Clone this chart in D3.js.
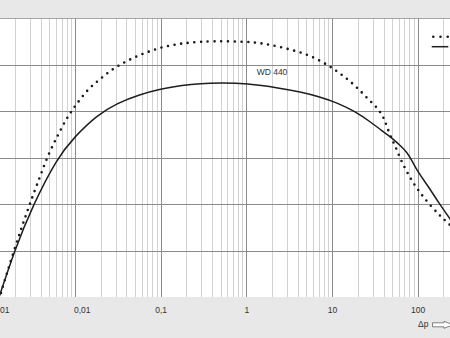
<!DOCTYPE html>
<html>
<head>
<meta charset="utf-8">
<script src="https://cdn.jsdelivr.net/npm/d3@7"></script>
<style>
  html, body { margin: 0; padding: 0; background: #e8e8e8; }
  svg { display: block; }
  text { font-family: "Liberation Sans", Arial, sans-serif; fill: #333; }
</style>
</head>
<body>
<svg id="chart" width="450" height="338"></svg>
<script>
// ---- data ----
const xTickValues = [0.001, 0.01, 0.1, 1, 10, 100];
const xTickLabels = ["0,001", "0,01", "0,1", "1", "10", "100"];
const yGridValues = [0, 10, 20, 30, 40, 50, 60];

// solid curve "WD 440"
const dpSolid = [0.00128, 0.00196, 0.00324, 0.00618, 0.00984, 0.01826, 0.0312, 0.0575, 0.0984, 0.1826, 0.288, 0.493, 1.01, 2.47, 4.23, 7.24, 11.35, 18.6, 27.8, 43.6, 51.9, 65.1, 74.4, 85.1, 97.3, 132, 177, 238, 320];
const valSolid = [-0.5, 9.9, 19.81, 29.86, 34.45, 39.18, 41.77, 43.6, 44.78, 45.64, 45.96, 46.1, 46.0, 44.98, 44.18, 43.1, 41.85, 39.94, 37.78, 35.0, 34.0, 32.3, 31.2, 29.5, 27.3, 23.9, 20.2, 16.8, 13.6];

// dotted curve
const dpDotted = [0.00130, 0.0020, 0.00299, 0.00392, 0.00486, 0.00635, 0.00802, 0.01002, 0.01422, 0.0191, 0.0257, 0.0357, 0.0503, 0.0718, 0.103, 0.151, 0.220, 0.408, 1.01, 1.73, 2.96, 5.07, 7.58, 10.5, 14.3, 19.1, 24.9, 32.6, 37.0, 40.7, 43.5, 49.7, 54.3, 62.1, 74.4, 88.9, 111, 139, 182, 218, 320];
const valDotted = [-0.5, 10.8, 20.2, 25.9, 30.6, 34.9, 38.5, 41.1, 44.8, 46.7, 48.7, 50.3, 51.7, 52.8, 53.8, 54.4, 54.8, 55.1, 55.0, 54.5, 53.5, 52.3, 50.7, 49.1, 47.3, 45.3, 43.1, 41.0, 39.7, 38.3, 36.8, 33.95, 32.7, 29.9, 27.0, 24.5, 22.0, 19.8, 17.5, 16.2, 13.2];

const seriesLabel = "WD 440";
const labelAt = [1.32, 47.8];
const axisLabel = "Δp";

// ---- layout ----
const W = 450, H = 338;
const plotTop = 18.3, plotBottom = 297, plotLeft = 0, plotRight = 450;

const svg = d3.select("#chart");

const x = d3.scaleLog().domain([0.001, 1000]).range([-10.8, 503.4]);
const y = d3.scaleLinear().domain([0, 60]).range([plotBottom, plotTop]);

// plot background
svg.append("rect")
  .attr("x", plotLeft).attr("y", plotTop)
  .attr("width", plotRight - plotLeft).attr("height", plotBottom - plotTop)
  .attr("fill", "#ffffff");

const clip = svg.append("defs").append("clipPath").attr("id", "plotclip");
clip.append("rect")
  .attr("x", plotLeft).attr("y", plotTop)
  .attr("width", plotRight - plotLeft).attr("height", plotBottom - plotTop);

const grid = svg.append("g").attr("clip-path", "url(#plotclip)");

// minor vertical grid
const minorTicks = [];
for (let e = -3; e <= 2; e++) {
  for (let m = 2; m <= 9; m++) minorTicks.push(m * Math.pow(10, e));
}
grid.selectAll("line.minor").data(minorTicks).join("line")
  .attr("class", "minor")
  .attr("x1", d => Math.round(x(d)) + 0.5).attr("x2", d => Math.round(x(d)) + 0.5)
  .attr("y1", plotTop).attr("y2", plotBottom)
  .attr("stroke", "#d2d2d2").attr("stroke-width", 1);

// major vertical grid
grid.selectAll("line.major").data(xTickValues.concat([1000])).join("line")
  .attr("class", "major")
  .attr("x1", d => Math.round(x(d)) + 0.5).attr("x2", d => Math.round(x(d)) + 0.5)
  .attr("y1", plotTop).attr("y2", plotBottom)
  .attr("stroke", "#8a8a8a").attr("stroke-width", 1);

// horizontal grid
grid.selectAll("line.h").data(yGridValues).join("line")
  .attr("class", "h")
  .attr("x1", plotLeft).attr("x2", plotRight)
  .attr("y1", d => Math.round(y(d)) + 0.5).attr("y2", d => Math.round(y(d)) + 0.5)
  .attr("stroke", "#8a8a8a").attr("stroke-width", 1);

// curves
const line = d3.line()
  .x(d => x(d[0])).y(d => y(d[1]))
  .curve(d3.curveBasis);

const solidData = dpSolid.map((d, i) => [d, valSolid[i]]);
const dottedData = dpDotted.map((d, i) => [d, valDotted[i]]);

const curves = svg.append("g").attr("clip-path", "url(#plotclip)");
curves.append("path").datum(dottedData)
  .attr("d", line).attr("fill", "none")
  .attr("stroke", "#1a1a1a").attr("stroke-width", 2.6)
  .attr("stroke-linecap", "round").attr("stroke-dasharray", "0 6.7");
curves.append("path").datum(solidData)
  .attr("d", line).attr("fill", "none")
  .attr("stroke", "#1e1e1e").attr("stroke-width", 1.5);

// series label
svg.append("text")
  .attr("x", x(labelAt[0])).attr("y", y(labelAt[1]))
  .attr("font-size", 8.5).text(seriesLabel);

// legend
svg.append("line")
  .attr("x1", 433.3).attr("x2", 449).attr("y1", 36.7).attr("y2", 36.7)
  .attr("stroke", "#1a1a1a").attr("stroke-width", 2.6)
  .attr("stroke-linecap", "round").attr("stroke-dasharray", "0 7.2");
svg.append("line")
  .attr("x1", 431.7).attr("x2", 448.3).attr("y1", 46.7).attr("y2", 46.7)
  .attr("stroke", "#1e1e1e").attr("stroke-width", 1.5);

// x axis labels
const xAxis = d3.axisBottom(x)
  .tickValues(xTickValues)
  .tickFormat((d, i) => xTickLabels[i])
  .tickSize(0).tickPadding(0);
const gx = svg.append("g").attr("transform", `translate(0,${plotBottom})`).call(xAxis);
gx.select(".domain").remove();
gx.selectAll("text")
  .attr("y", 15.7).attr("dy", null)
  .attr("font-size", 8.5).attr("font-family", "Liberation Sans, Arial, sans-serif")
  .attr("fill", "#333")
  .attr("text-anchor", d => d < 0.05 ? "start" : "middle")
  .attr("dx", d => d < 0.05 ? -1.5 : 0);

// Δp label with hollow arrow
svg.append("text")
  .attr("x", 418).attr("y", 327.3)
  .attr("font-size", 8.5).text(axisLabel);
svg.append("path")
  .attr("d", "M432.5,322.8 H444 V321.3 L453,324.8 L444,328.3 V326.8 H432.5 Z")
  .attr("fill", "#ffffff").attr("stroke", "#666").attr("stroke-width", 0.8);
</script>
</body>
</html>
